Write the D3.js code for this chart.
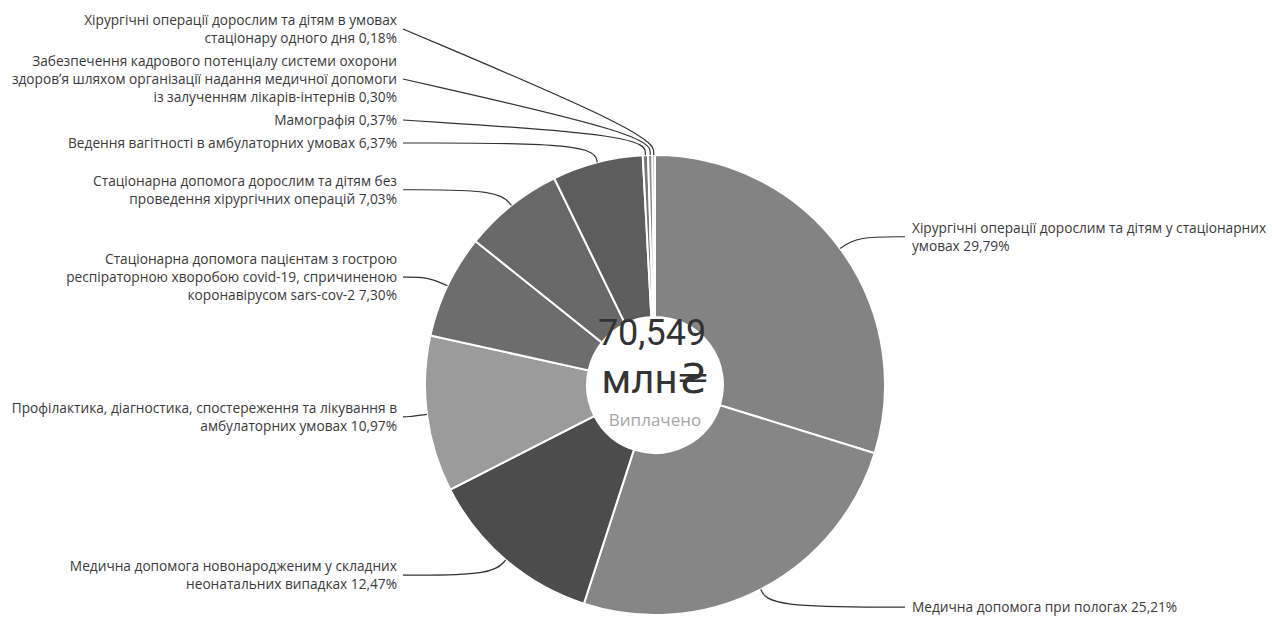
<!DOCTYPE html>
<html>
<head>
<meta charset="utf-8">
<script src="https://cdn.jsdelivr.net/npm/d3@7"></script>
<style>
  body { margin: 0; background: #fff; }
  .lbl { font-family: "Open Sans", "Noto Sans", sans-serif; font-size: 13.7px; fill: #3a3a3a; }
</style>
</head>
<body>
<script>
// slices, clockwise from 12 o'clock
var categories = [
  "Хірургічні операції дорослим та дітям у стаціонарних\nумовах",
  "Медична допомога при пологах",
  "Медична допомога новонародженим у складних\nнеонатальних випадках",
  "Профілактика, діагностика, спостереження та лікування в\nамбулаторних умовах",
  "Стаціонарна допомога пацієнтам з гострою\nреспіраторною хворобою covid-19, спричиненою\nкоронавірусом sars-cov-2",
  "Стаціонарна допомога дорослим та дітям без\nпроведення хірургічних операцій",
  "Ведення вагітності в амбулаторних умовах",
  "Мамографія",
  "Забезпечення кадрового потенціалу системи охорони\nздоровʼя шляхом організації надання медичної допомоги\nіз залученням лікарів-інтернів",
  "Хірургічні операції дорослим та дітям в умовах\nстаціонару одного дня"
];
var shares = [29.79, 25.21, 12.47, 10.97, 7.30, 7.03, 6.37, 0.37, 0.30, 0.18];
var totalValue = "70,549";
var totalUnit = "млн₴";
var totalCaption = "Виплачено";

var w = 1272, h = 619;
var cx = 655, cy = 385,
  outerR = 230, innerR = 68, labelR = 250,
  lineH = 18, gap = 5;

var color = d3.scaleOrdinal()
  .domain(d3.range(shares.length))
  .range(["#838383", "#868686", "#4c4c4c", "#9b9b9b", "#6d6d6d",
          "#686868", "#5d5d5d", "#777777", "#8a8a8a", "#9c9c9c"]);

var uaLocale = d3.formatLocale({ decimal: ",", thousands: " ", grouping: [3], currency: ["", "₴"] });
var fmt = uaLocale.format(".2f");

var svg = d3.select("body").append("svg")
  .attr("width", w)
  .attr("height", h);

var g = svg.append("g")
  .attr("transform", "translate(" + cx + "," + cy + ")");

var pie = d3.pie().sort(null).value(function (d) { return d; });
var arcs = pie(shares);

var arc = d3.arc().innerRadius(innerR).outerRadius(outerR);

g.selectAll("path.slice")
  .data(arcs)
  .enter()
  .append("path")
  .attr("class", "slice")
  .attr("d", arc)
  .attr("fill", function (d, i) { return color(i); })
  .attr("stroke", "#fff")
  .attr("stroke-width", 2);

// label layout
var labels = arcs.map(function (a, i) {
  var mid = (a.startAngle + a.endAngle) / 2;
  var lines = categories[i].split("\n");
  lines[lines.length - 1] += " " + fmt(shares[i]) + "%";
  return {
    i: i,
    mid: mid,
    side: Math.sin(mid) >= 0 ? 1 : -1,
    lines: lines,
    y: -labelR * Math.cos(mid)
  };
});

// left side: push upward from the bottom
var left = labels.filter(function (d) { return d.side < 0; })
  .sort(function (a, b) { return b.y - a.y; });
var prevTop = Infinity;
left.forEach(function (d) {
  var hh = d.lines.length * lineH;
  d.y = Math.min(d.y, prevTop - gap - hh / 2);
  prevTop = d.y - hh / 2;
});

// right side: push downward from the top
var right = labels.filter(function (d) { return d.side > 0; })
  .sort(function (a, b) { return a.y - b.y; });
var prevBottom = -Infinity;
right.forEach(function (d) {
  var hh = d.lines.length * lineH;
  d.y = Math.max(d.y, prevBottom + gap + hh / 2);
  prevBottom = d.y + hh / 2;
});

var leader = d3.line().curve(d3.curveBasis);

g.selectAll("path.leader")
  .data(labels)
  .enter()
  .append("path")
  .attr("class", "leader")
  .attr("fill", "none")
  .attr("stroke", "#333")
  .attr("stroke-width", 1.2)
  .attr("d", function (d) {
    var s = Math.sin(d.mid), c = Math.cos(d.mid);
    return leader([
      [outerR * s, -outerR * c],
      [labelR * s, -labelR * c],
      [d.side > 0 ? 250 : -252, d.y]
    ]);
  });

var lbl = g.selectAll("text.lbl")
  .data(labels)
  .enter()
  .append("text")
  .attr("class", "lbl")
  .attr("text-anchor", function (d) { return d.side > 0 ? "start" : "end"; })
  .attr("transform", function (d) {
    return "translate(" + (d.side > 0 ? 257 : -258) + "," + d.y + ")";
  });

lbl.selectAll("tspan")
  .data(function (d) {
    return d.lines.map(function (t, k) { return { t: t, k: k, n: d.lines.length }; });
  })
  .enter()
  .append("tspan")
  .attr("x", 0)
  .attr("y", function (d) { return (d.k - (d.n - 1) / 2) * lineH; })
  .attr("dy", "0.35em")
  .text(function (d) { return d.t; });

// centre text
var centre = g.append("g")
  .attr("font-family", "Roboto, 'DejaVu Sans', sans-serif")
  .attr("text-anchor", "middle");

centre.append("text")
  .attr("x", -3)
  .attr("y", -40)
  .attr("font-size", 36)
  .attr("fill", "#333")
  .text(totalValue);

centre.append("text")
  .attr("x", 0)
  .attr("y", 8)
  .attr("font-size", 40)
  .attr("fill", "#333")
  .text(totalUnit);

centre.append("text")
  .attr("x", 0)
  .attr("y", 41)
  .attr("font-family", "'Open Sans', 'Noto Sans', sans-serif")
  .attr("font-size", 17)
  .attr("fill", "#a6a6a6")
  .text(totalCaption);
</script>
</body>
</html>
